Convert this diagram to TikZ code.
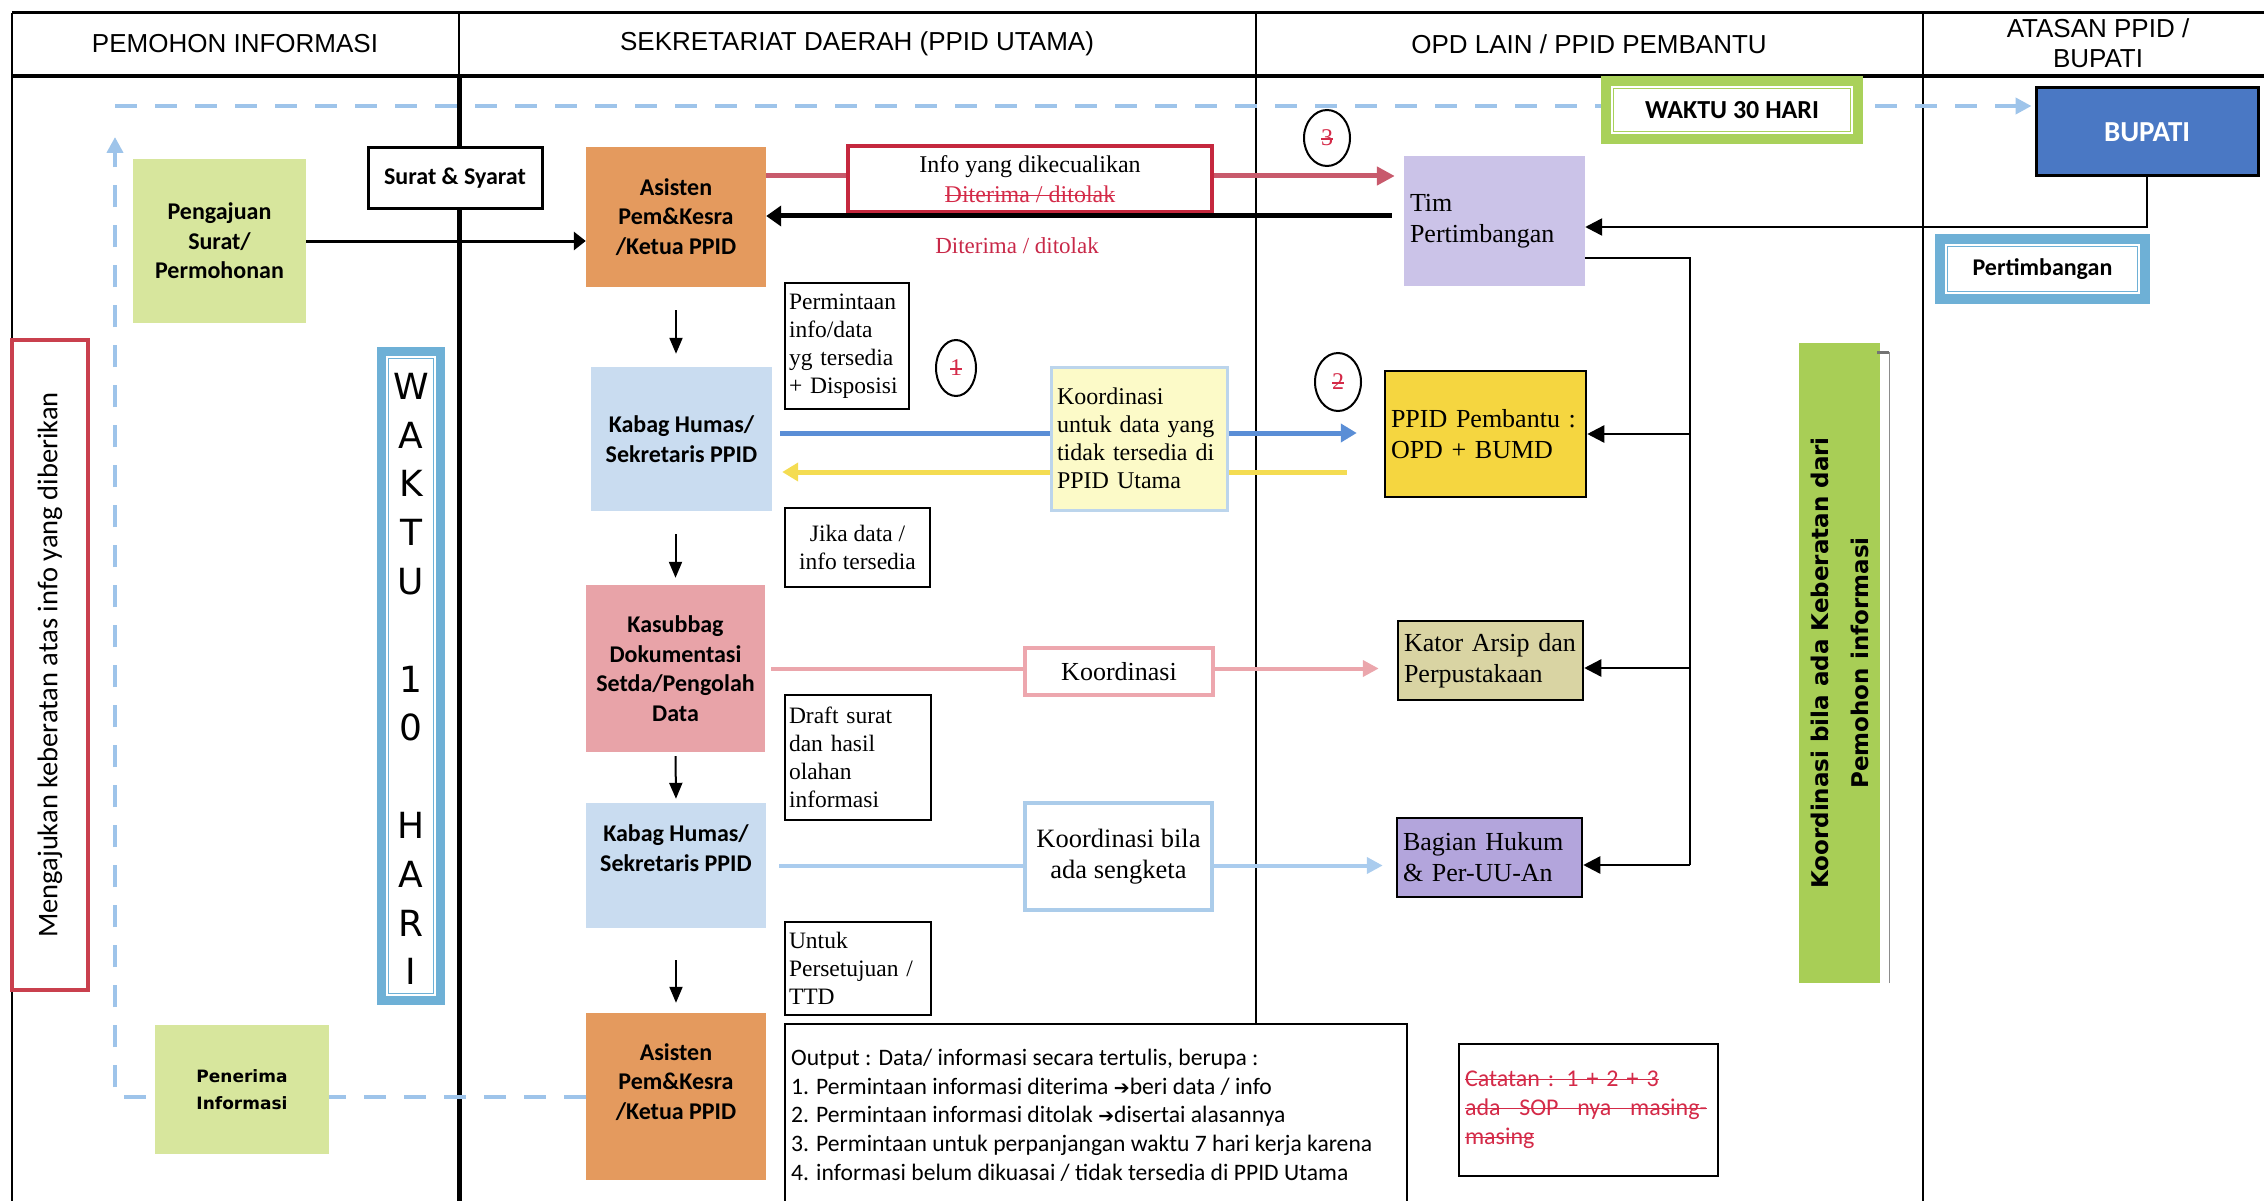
\documentclass[tikz,border=0pt]{standalone}
\usepackage{fontspec}
\setmainfont{Liberation Serif}
\newfontfamily\calf{Carlito}
\newfontfamily\arialf{Liberation Sans}
\newfontfamily\dvf{DejaVu Sans}
\usetikzlibrary{arrows.meta,shapes.geometric}
\pgfdeclarelayer{bg}
\pgfsetlayers{bg,main}
\newcommand{\myfs}[2]{\fontsize{#1}{#2}\selectfont}
\newsavebox{\strkbox}
\newcommand{\strk}[1]{\leavevmode\sbox{\strkbox}{#1}\rlap{\rule[0.26em]{\wd\strkbox}{0.065em}}\usebox{\strkbox}}
\definecolor{gboxc}{HTML}{D7E69D}
\definecolor{orc}{HTML}{E49A5E}
\definecolor{lbc}{HTML}{C9DCF0}
\definecolor{pkc}{HTML}{E8A3A8}
\definecolor{yfillc}{HTML}{FCFAC8}
\definecolor{yborc}{HTML}{BCD5EC}
\definecolor{pkborc}{HTML}{EDA7AE}
\definecolor{sgborc}{HTML}{ABCCEA}
\definecolor{redboxc}{HTML}{C5283E}
\definecolor{redtxt}{HTML}{D42A48}
\definecolor{redlab}{HTML}{C82848}
\definecolor{redarrc}{HTML}{C85A6C}
\definecolor{bluearrc}{HTML}{5A8ED6}
\definecolor{yelarrc}{HTML}{F4DC52}
\definecolor{pinkarrc}{HTML}{EBA6AC}
\definecolor{lbarrc}{HTML}{AACCEE}
\definecolor{timc}{HTML}{CBC3E8}
\definecolor{ppidc}{HTML}{F5D640}
\definecolor{katorc}{HTML}{D9D4A3}
\definecolor{hukumc}{HTML}{B3A5DC}
\definecolor{kgc}{HTML}{A8CE56}
\definecolor{w30c}{HTML}{A9D15A}
\definecolor{bupc}{HTML}{4A78C4}
\definecolor{pbc}{HTML}{6EB0D6}
\definecolor{dashc}{HTML}{9EC4EA}
\definecolor{mengc}{HTML}{C9404E}
\begin{document}
\begin{tikzpicture}[x=1pt,y=-1pt,
  hdr/.style={font=\arialf\myfs{26}{30}, align=center, inner sep=0pt},
  cbox/.style={font=\calf\bfseries\myfs{24}{29.5}, align=center, inner sep=0pt},
  note/.style={draw=black, line width=2.5pt, fill=white, font=\myfs{23.5}{28}, inner xsep=4pt, inner ysep=0pt},
  tbox/.style={font=\myfs{26}{31}, inner xsep=6pt, inner ysep=0pt, align=left},
  circ/.style={ellipse, draw=black, line width=2pt, inner sep=0pt, font=\myfs{24}{28}, text=redtxt},
  blkarrow/.style={draw=black, line width=3pt, -{Triangle[length=12pt,width=18pt]}},
  downarrow/.style={draw=black, line width=2pt, -{Triangle[length=16pt,width=13pt]}},
  blkthick/.style={draw=black, line width=5pt, -{Triangle[length=15pt,width=20pt]}},
  blkmid/.style={draw=black, line width=2.5pt, -{Triangle[length=17pt,width=17pt]}},
  redarr/.style={draw=redarrc, line width=5pt, -{Triangle[length=18pt,width=18pt]}},
  bluearr/.style={draw=bluearrc, line width=5pt, -{Triangle[length=16pt,width=18pt]}},
  yelarr/.style={draw=yelarrc, line width=5pt, -{Triangle[length=16pt,width=18pt]}},
  pinkarr/.style={draw=pinkarrc, line width=4pt, -{Triangle[length=16pt,width=16pt]}},
  lbarr/.style={draw=lbarrc, line width=4pt, -{Triangle[length=16pt,width=16pt]}},
  dasharr/.style={draw=dashc, line width=4pt, dash pattern=on 22pt off 18pt, -{Triangle[length=16pt,width=16pt]}}
]
\useasboundingbox (0,0) rectangle (2264,1201);

% ---------- header ----------
\draw[line width=3pt] (12,13) -- (2264,13);
\draw[line width=4pt] (12,76) -- (2264,76);
\node[hdr] (h1) at (235,44) {PEMOHON INFORMASI};
\node[hdr] (h2) at (857,44) {SEKRETARIAT DAERAH (PPID UTAMA)};
\node[hdr] (h3) at (1589,44) {OPD LAIN / PPID PEMBANTU};
\node[hdr] (h4) at (2098,43) {ATASAN PPID /\\BUPATI};

% ---------- lane 1 ----------
\node[cbox, fill=gboxc, minimum width=173pt, minimum height=164pt] (pengajuan) at (219.5,241) {Pengajuan\\Surat/\\Permohonan};
\node[draw=mengc, line width=4pt, fill=white, rotate=90, minimum width=650pt, minimum height=76pt, font=\calf\myfs{28.5}{32}, inner sep=0pt] (keberatan) at (50,665) {Mengajukan keberatan atas info yang diberikan};
\node[fill=pbc, minimum width=68pt, minimum height=658pt, inner sep=0pt] (waktu10) at (411,676) {};
\draw[draw=pbc, fill=white, line width=1.5pt] ([shift={(8pt,-8pt)}]waktu10.north west) rectangle ([shift={(-8pt,8pt)}]waktu10.south east);
\draw[draw=pbc, line width=1.2pt] ([shift={(12pt,-12pt)}]waktu10.north west) rectangle ([shift={(-12pt,12pt)}]waktu10.south east);
\node[font=\dvf\myfs{36}{48.8}, align=center, inner sep=0pt] (w10t) at (411,679) {W\\A\\K\\T\\U\\~\\1\\0\\~\\H\\A\\R\\I};
\node[cbox, font=\dvf\bfseries\myfs{17}{27}, fill=gboxc, minimum width=174pt, minimum height=129pt] (penerima) at (242,1089.5) {Penerima\\Informasi};
\node[cbox, draw=black, line width=3pt, fill=white, minimum width=174pt, minimum height=61pt] (surat) at (455,178.5) {Surat \& Syarat};

% ---------- lane 2 ----------
\node[cbox, fill=orc, minimum width=180pt, minimum height=140pt] (asisten1) at (676,217) {Asisten\\Pem\&Kesra\\/Ketua PPID};
\node[cbox, fill=lbc, minimum width=181pt, minimum height=144pt] (kabag1) at (681.5,439) {Kabag Humas/\\Sekretaris PPID};
\node[cbox, fill=pkc, minimum width=179pt, minimum height=167pt] (kasubbag) at (675.5,668.5) {Kasubbag\\Dokumentasi\\Setda/Pengolah\\Data};
\node[fill=lbc, minimum width=180pt, minimum height=125pt, inner sep=0pt] (kabag2) at (676,865.5) {};
\node[cbox] (kabag2t) at (676,848) {Kabag Humas/\\Sekretaris PPID};
\node[fill=orc, minimum width=180pt, minimum height=167pt, inner sep=0pt] (asisten2) at (676,1096.5) {};
\node[cbox] (asisten2t) at (676,1082) {Asisten\\Pem\&Kesra\\/Ketua PPID};

\node[note, align=left, minimum height=126pt, text width=116pt] (permintaan) at (847,346) {Permintaan\\info/data\\yg tersedia\\+ Disposisi};
\node[note, align=center, minimum width=145pt, minimum height=79pt] (jika) at (857.5,547.5) {Jika data /\\info tersedia};
\node[note, align=left, minimum height=125pt, text width=138pt] (draft) at (858,757.5) {Draft surat\\dan hasil\\olahan\\informasi};
\node[note, align=left, minimum height=93pt, text width=138pt] (untuk) at (858,968.5) {Untuk\\Persetujuan /\\TTD};
\node[draw=black, line width=2.5pt, fill=white, minimum width=622pt, minimum height=182pt, inner sep=0pt] (output) at (1096,1115) {};
\node[anchor=west, align=left, font=\calf\myfs{23.6}{28.7}, inner sep=0pt] (outtxt) at (791,1115) {Output : Data/ informasi secara tertulis, berupa :\\1. Permintaan informasi diterima {\dvf\fontsize{19}{28.7}\selectfont ➔}beri data / info\\2. Permintaan informasi ditolak {\dvf\fontsize{19}{28.7}\selectfont ➔}disertai alasannya\\3. Permintaan untuk perpanjangan waktu 7 hari kerja karena\\4. informasi belum dikuasai / tidak tersedia di PPID Utama};

\node[draw=redboxc, line width=4pt, fill=white, minimum width=364pt, minimum height=66pt, align=center, font=\myfs{24}{30}, inner sep=0pt] (infobox) at (1030,179) {Info yang dikecualikan\\{\color{redtxt}\strk{Diterima / ditolak}}};
\node[font=\myfs{23}{28}, text=redlab, inner sep=0pt] (dtlab) at (1017,246) {Diterima / ditolak};
\node[circ, minimum width=40pt, minimum height=56pt] (c1) at (956,368) {\strk{1}};
\node[circ, minimum width=46pt, minimum height=58pt] (c2) at (1338,382) {\strk{2}};
\node[circ, minimum width=46pt, minimum height=56pt] (c3) at (1327,138) {\strk{3}};

\node[draw=yborc, line width=3pt, fill=yfillc, minimum width=176pt, minimum height=143pt, text width=164pt, align=left, font=\myfs{24}{28}, inner xsep=6pt, inner ysep=0pt] (koordyel) at (1139,438.5) {Koordinasi\\untuk data yang\\tidak tersedia di\\PPID Utama};
\node[draw=pkborc, line width=3.5pt, fill=white, minimum width=188pt, minimum height=47pt, font=\myfs{26}{30}, inner sep=0pt] (koordpink) at (1119,671.5) {Koordinasi};
\node[draw=sgborc, line width=4pt, fill=white, minimum width=187pt, minimum height=107pt, align=center, font=\myfs{26.5}{31}, inner sep=0pt] (sengketa) at (1118.5,856.5) {Koordinasi bila\\ada sengketa};

% ---------- lane 3 ----------
\node[tbox, fill=timc, minimum width=181pt, minimum height=130pt, text width=169pt] (tim) at (1494.5,221) {Tim\\Pertimbangan};
\node[tbox, draw=black, line width=2.5pt, fill=ppidc, minimum width=201pt, minimum height=126pt, text width=189pt, inner xsep=5pt] (ppidp) at (1485.5,434) {PPID Pembantu :\\OPD + BUMD};
\node[tbox, draw=black, line width=2.5pt, fill=katorc, minimum width=185pt, minimum height=79pt, text width=173pt] (kator) at (1490.5,660.5) {Kator Arsip dan\\Perpustakaan};
\node[tbox, draw=black, line width=2.5pt, fill=hukumc, minimum width=185pt, minimum height=79pt, text width=173pt] (hukum) at (1489.5,857.5) {Bagian Hukum\\\& Per-UU-An};
\node[fill=kgc, rotate=90, minimum width=640pt, minimum height=81pt, align=center, font=\dvf\bfseries\myfs{23}{40}, inner sep=0pt] (keberatan2) at (1839.5,663) {Koordinasi bila ada Keberatan dari\\Pemohon informasi};
\draw[black!45, line width=1.2pt] ([xshift=9pt]keberatan2.south west) -- ([xshift=9pt,yshift=-9pt]keberatan2.south east);
\draw[black!55, line width=3pt] ([yshift=-10pt,xshift=-3pt]keberatan2.south east) -- ([yshift=-10pt,xshift=9pt]keberatan2.south east);
\node[fill=w30c, minimum width=262pt, minimum height=68pt, inner sep=0pt] (waktu30) at (1732,110) {};
\draw[draw=w30c, fill=white, line width=1.5pt] ([shift={(9pt,-9pt)}]waktu30.north west) rectangle ([shift={(-9pt,9pt)}]waktu30.south east);
\draw[draw=w30c, line width=1.2pt] ([shift={(13pt,-13pt)}]waktu30.north west) rectangle ([shift={(-13pt,13pt)}]waktu30.south east);
\node[cbox, font=\calf\bfseries\myfs{26}{30}] (waktu30t) at (waktu30) {WAKTU 30 HARI};

% ---------- lane 4 ----------
\node[draw=black, line width=3pt, fill=bupc, minimum width=222pt, minimum height=88pt, font=\calf\bfseries\myfs{29}{34}, text=white, inner sep=0pt] (bupati) at (2147,132) {BUPATI};
\node[fill=pbc, minimum width=215pt, minimum height=70pt, inner sep=0pt] (pertimb) at (2042.5,269) {};
\draw[draw=pbc, fill=white, line width=1.5pt] ([shift={(9pt,-9pt)}]pertimb.north west) rectangle ([shift={(-9pt,9pt)}]pertimb.south east);
\draw[draw=pbc, line width=1.2pt] ([shift={(13pt,-13pt)}]pertimb.north west) rectangle ([shift={(-13pt,13pt)}]pertimb.south east);
\node[cbox] (pertimbt) at (pertimb) {Pertimbangan};

% ---------- background lines and coloured connectors ----------
\coordinate (dtl) at (115,106);
\coordinate (dup) at (115,137);
\coordinate (bus) at (1690,865);
\coordinate (bl1) at ([yshift=6pt,xshift=8pt]kabag1.east);
\coordinate (yl1) at ([yshift=-33pt,xshift=10pt]kabag1.east);
\coordinate (katorE) at ([yshift=-7.5pt]kator.east);
\coordinate (hukumE) at ([yshift=-7.5pt]hukum.east);
\begin{pgfonlayer}{bg}
\draw[line width=2.5pt] (12,13) -- (12,1201);
\draw[line width=2pt] (459,13) -- (459,76);
\draw[line width=5pt] (459,76) -- (459,1201);
\draw[line width=2pt] (1256,13) -- (1256,1025);
\draw[line width=2pt] (1923,13) -- (1923,1201);
\draw[dasharr, shorten >=3pt] (dtl) -- (dtl -| bupati.west);
\draw[dasharr] (asisten2.west) -| (dup);
\draw[redarr] ([yshift=41pt]asisten1.east) -- ([yshift=45pt,xshift=-9pt]tim.west);
\draw[bluearr, shorten >=27pt] (bl1) -- (bl1 -| ppidp.west);
\draw[yelarr, shorten <=37pt] (yl1 -| ppidp.west) -- (yl1);
\draw[pinkarr, shorten <=6pt, shorten >=18pt] (kasubbag.east) -- (kasubbag.east -| kator.west);
\draw[lbarr, shorten <=13pt, shorten >=13pt] (kabag2.east) -- (kabag2.east -| hukum.west);
\end{pgfonlayer}

% ---------- black connectors ----------
\draw[blkarrow] (pengajuan.east) -- (pengajuan.east -| asisten1.west);
\draw[downarrow, shorten <=23pt, shorten >=13pt] (asisten1.south) -- (asisten1.south |- kabag1.north);
\draw[downarrow, shorten <=23pt, shorten >=7pt] (kasubbag.north |- kabag1.south) -- (kasubbag.north);
\draw[downarrow, shorten <=4pt, shorten >=4pt] (kasubbag.south) -- (kabag2.north);
\draw[downarrow, shorten <=32pt, shorten >=10pt] (kabag2.south) -- (asisten2.north);
\draw[blkthick] ([yshift=5pt,xshift=-12pt]tim.west) -- ([yshift=1pt]asisten1.east);
\draw[blkmid] (bupati.south) |- ([yshift=-6pt]tim.east);
\draw[blkmid, -] ([yshift=-37pt]tim.east) -| (bus);
\draw[blkmid] (ppidp.east -| bus) -- (ppidp.east);
\draw[blkmid] (katorE -| bus) -- (katorE);
\draw[blkmid] (hukumE -| bus) -- (hukumE);

% ---------- note ----------
\node[draw=black, line width=2.5pt, fill=white, minimum width=259pt, minimum height=132pt, text width=247pt, align=left, inner xsep=6pt, inner ysep=0pt, font=\calf\myfs{24}{29}, text=redtxt] (catatan) at (1588.5,1110) {\strk{Catatan : 1 + 2 + 3}\\\strk{\makebox[242pt][l]{ada\hfill SOP\hfill nya\hfill masing-}}\\\strk{masing}};
\end{tikzpicture}
\end{document}
